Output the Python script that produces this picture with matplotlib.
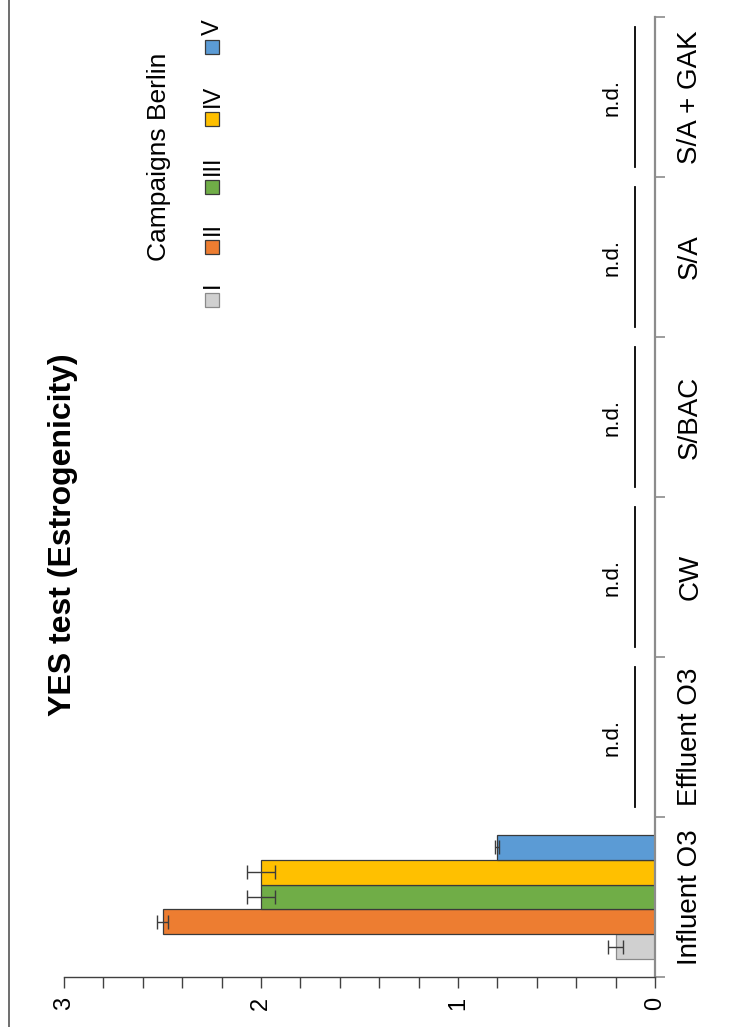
import matplotlib
matplotlib.use("Agg")
import matplotlib.pyplot as plt
import numpy as np
from matplotlib.ticker import MultipleLocator
from matplotlib.patches import Rectangle
from matplotlib.lines import Line2D

plt.rcParams['font.family'] = ['Liberation Sans', 'DejaVu Sans']

categories = ['Influent O3', 'Effluent O3', 'CW', 'S/BAC', 'S/A', 'S/A + GAK']
campaigns = ['I', 'II', 'III', 'IV', 'V']
influent_mean = [0.2, 2.5, 2.0, 2.0, 0.8]
influent_sd = [0.04, 0.03, 0.07, 0.07, 0.01]
not_detected = ['Effluent O3', 'CW', 'S/BAC', 'S/A', 'S/A + GAK']

colors = ['#d0d0d0', '#ed7d31', '#70ad47', '#ffc000', '#5b9bd5']
edges = ['#8a8a8a', '#3a3a3a', '#3a3a3a', '#3a3a3a', '#3a3a3a']

W, H = 747, 1027

def fx(x):
	return x / W

def fy(y):
	return 1 - y / H

fig = plt.figure(figsize=(W / 100, H / 100), dpi=100)
# the plot is turned on its side: value axis runs right to left, text reads upwards
ax = fig.add_axes([fx(64), fy(977), fx(655) - fx(64), fy(17) - fy(977)])
ax.set_xlim(3, 0)
ax.set_ylim(-0.5, len(categories) - 0.5)

bw = 0.156
for i in range(len(campaigns)):
	ax.barh(0 + (i - 2) * bw, influent_mean[i], height=bw, color=colors[i],
		edgecolor=edges[i], linewidth=0.9, xerr=influent_sd[i],
		error_kw=dict(ecolor='#3c3c3c', elinewidth=1, capsize=5, capthick=1))

for name in not_detected:
	c = categories.index(name)
	ax.plot([0.10, 0.10], [c - 0.435, c + 0.435], color='black', lw=1.3)
	ax.text(0.22, c, 'n.d.', rotation=90, ha='center', va='center', fontsize=16)

for s in ['left', 'top']:
	ax.spines[s].set_visible(False)
ax.spines['right'].set_color('#8c8c8c')
ax.spines['right'].set_linewidth(1.6)
ax.spines['bottom'].set_color('#404040')
ax.spines['bottom'].set_linewidth(1.0)

# value axis
ax.xaxis.set_major_locator(MultipleLocator(1))
ax.xaxis.set_minor_locator(MultipleLocator(0.2))
ax.tick_params(axis='x', which='both', direction='out', length=8, width=1,
	color='#404040', labelsize=17, labelrotation=90, pad=6)

# category axis on the right
ax.yaxis.tick_right()
ax.set_yticks(np.arange(-0.5, len(categories), 1))
ax.set_yticklabels([])
ax.set_yticks(np.arange(len(categories)), labels=categories, minor=True)
ax.tick_params(axis='y', which='major', direction='out', length=7, width=1.2, color='#8c8c8c')
ax.tick_params(axis='y', which='minor', length=0, labelsize=20, labelrotation=90, pad=16)
for lbl in ax.get_yticklabels(minor=True):
	lbl.set_va('center')

fig.text(fx(63), fy(535), 'YES test (Estrogenicity)', rotation=90, ha='center',
	va='center', fontsize=23, fontweight='bold')

# legend drawn by hand so it can be turned as well
fig.text(fx(159), fy(157), 'Campaigns Berlin', rotation=90, ha='center', va='center', fontsize=19)
sq = 14
sq_y = [300, 247, 187, 119, 47]
for i in range(len(campaigns)):
	fig.add_artist(Rectangle((fx(212 - sq / 2), fy(sq_y[i] + sq / 2)), sq / W, sq / H,
		transform=fig.transFigure, facecolor=colors[i], edgecolor=edges[i], lw=0.9))
	fig.text(fx(213), fy(sq_y[i] - sq / 2 - 5), campaigns[i], rotation=90,
		rotation_mode='anchor', ha='left', va='center', fontsize=17)

fig.add_artist(Line2D([fx(9), fx(9)], [0, 1], transform=fig.transFigure, color='#555555', lw=1.2))

fig.savefig('out.png', dpi=100)
